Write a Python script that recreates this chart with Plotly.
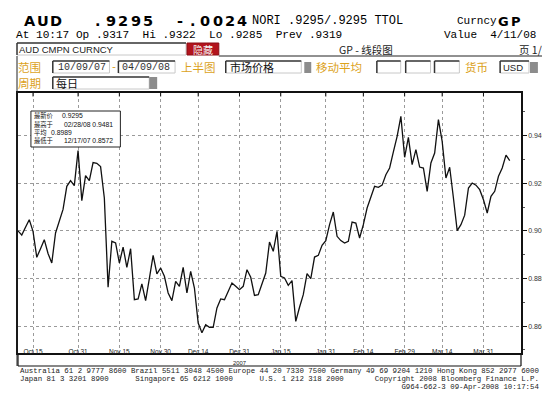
import plotly.graph_objects as go
import pandas as pd

# ---------------- data ----------------
dates = [d.strftime("%Y-%m-%d") for d in pd.bdate_range("2007-10-09", "2008-04-09")]
values = [
    0.9000, 0.8982, 0.9015, 0.9047, 0.8998, 0.8889, 0.8925, 0.8963, 0.8905, 0.8865,
    0.8991, 0.9040, 0.9090, 0.9187, 0.9211, 0.9190, 0.9337, 0.9127, 0.9232, 0.9211,
    0.9287, 0.9284, 0.9270, 0.9138, 0.8763, 0.8956, 0.8949, 0.8865, 0.8932, 0.8847,
    0.8925, 0.8711, 0.8714, 0.8777, 0.8707, 0.8800, 0.8897, 0.8819, 0.8844, 0.8809,
    0.8739, 0.8707, 0.8788, 0.8767, 0.8847, 0.8739, 0.8830, 0.8760, 0.8613, 0.8572,
    0.8606, 0.8595, 0.8595, 0.8676, 0.8714, 0.8711, 0.8746, 0.8781, 0.8767, 0.8753,
    0.8767, 0.8837, 0.8805, 0.8729, 0.8732, 0.8781, 0.8823, 0.8953, 0.8914, 0.8998,
    0.8809, 0.8802, 0.8771, 0.8791, 0.8620, 0.8679, 0.8732, 0.8820, 0.8799, 0.8890,
    0.8897, 0.8939, 0.8959, 0.9026, 0.9079, 0.8977, 0.8959, 0.8949, 0.8956, 0.9037,
    0.9033, 0.8970, 0.9026, 0.9096, 0.9145, 0.9187, 0.9183, 0.9192, 0.9236, 0.9264,
    0.9332, 0.9397, 0.9481, 0.9309, 0.9393, 0.9278, 0.9341, 0.9268, 0.9264, 0.9166,
    0.9285, 0.9327, 0.9467, 0.9376, 0.9222, 0.9267, 0.9138, 0.9001, 0.9026, 0.9066,
    0.9180, 0.9201, 0.9192, 0.9173, 0.9131, 0.9075, 0.9145, 0.9166, 0.9229, 0.9264,
    0.9318, 0.9295,
]
tick_dates = ["2007-10-15", "2007-10-31", "2007-11-15", "2007-11-30", "2007-12-14",
              "2007-12-31", "2008-01-15", "2008-01-31", "2008-02-14", "2008-02-29",
              "2008-03-14", "2008-03-31"]
tick_labels = ["Oct 15", "Oct 31", "Nov 15", "Nov 30", "Dec 14", "Dec 31", "Jan 15",
               "Jan 31", "Feb 14", "Feb 29", "Mar 14", "Mar 31"]
y_ticks = [0.86, 0.88, 0.90, 0.92, 0.94]
y_tick_labels = ["0.8600", "0.8800", "0.9000", "0.9200", "0.9400"]

stat_labels = ["最新价", "最高于", "平均", "最低于"]
stat_values = ["0.9295", "02/28/08 0.9481", "0.8989", "12/17/07 0.8572"]

# ---------------- layout helpers ----------------
W, H = 550, 393
L, R, T, B = 8, 514, 85, 345


def PX(x):
    return (x - L) / (R - L)


def PY(y):
    return (B - y) / (B - T)


annotations = []
shapes = []

MONO = "Liberation Mono, DejaVu Sans Mono, monospace"
SANS = "Liberation Sans, Arial, sans-serif"
CJK = "Noto Sans CJK SC, sans-serif"
ORANGE = "#dca21c"


def txt(s, x, y, size, color="#000", family=SANS, anchor="left", weight="normal"):
    annotations.append(dict(text=s, x=PX(x), y=PY(y), xref="paper", yref="paper",
                            xanchor=anchor, yanchor="middle", showarrow=False,
                            borderpad=0,
                            font=dict(family=family, size=size, color=color, weight=weight)))


def spaced(s, x0, pitch, y, size, weight="bold", family="DejaVu Sans, sans-serif"):
    for k, ch in enumerate(s):
        txt(ch, x0 + pitch * (k + 0.5), y, size, family=family, anchor="center", weight=weight)


def line(x0, y0, x1, y1, color="#000", width=1):
    shapes.append(dict(type="line", xref="paper", yref="paper", x0=PX(x0), y0=PY(y0),
                       x1=PX(x1), y1=PY(y1), line=dict(color=color, width=width)))


def rect(x0, y0, x1, y1, color="#000", width=1, fill="rgba(0,0,0,0)"):
    shapes.append(dict(type="rect", xref="paper", yref="paper", x0=PX(x0), y0=PY(y0),
                       x1=PX(x1), y1=PY(y1), line=dict(color=color, width=width),
                       fillcolor=fill))


def sunken(x0, y0, x1, y1):
    line(x0, y1, x1, y1, "#c8c8c8", 1)
    line(x1, y0, x1, y1, "#c8c8c8", 1)
    line(x0, y0, x1, y0, "#333", 1.5)
    line(x0, y0, x0, y1, "#333", 1.5)


# ---------------- header ----------------
spaced("AUD", 14, 12.7, 13, 14.5)
spaced(".9295", 82.5, 12.5, 13, 14.5)
spaced("-.0024", 165, 12.5, 13, 14.5)
txt("NORI .9295/.9295 TTOL", 242, 13, 12, family=MONO)
txt("Curncy", 449, 13, 11, family=MONO)
spaced("GP", 490, 12.5, 13, 13)
nb = "\u00a0"
txt(("At 10:17 Op .9317  Hi .9322  Lo .9285  Prev .9319").replace(" ", nb), 5, 27.5, 11.1,
    family=MONO)
txt(("Value  4/11/08").replace(" ", nb), 436, 27.5, 11, family=MONO)
txt("GP - 线段图", 330, 42, 10.5, family=CJK, color="#222")
txt("页 1/5", 511, 42, 10.5, family=CJK, color="#222")

# row 1
sunken(7, 35, 177, 47)
txt("AUD CMPN CURNCY", 8, 41.5, 9.5, family=SANS, color="#222")
rect(178, 35, 210, 47, color="#8a0f16", width=1, fill="#b3141d")
txt("隐藏", 194, 41.5, 10, color="#f4f4f4", family=CJK, anchor="center")

# outer panel frame
line(210, 48, 543, 48, "#222", 1)
line(543, 48, 543, 358, "#222", 1)
line(7, 48, 7, 358, "#222", 1)

# row 2
txt("范围", 7, 59.5, 11.5, color=ORANGE, family=CJK)
sunken(43, 53, 100, 65)
txt("10/09/07", 47, 59.5, 10, color="#333", family=MONO)
txt("-", 101, 59.5, 10, color=ORANGE, family=MONO)
sunken(109, 53, 166, 65)
txt("04/09/08", 112, 59.5, 10, color="#333", family=MONO)
txt("上半图", 171, 59.5, 11.5, color=ORANGE, family=CJK)
sunken(217, 53, 293, 65)
txt("市场价格", 220, 59.5, 11, color="#111", family=CJK)
rect(296, 54, 303, 65, color="#888", width=0, fill="#8c8c8c")
txt("移动平均", 307, 59.5, 11.5, color=ORANGE, family=CJK)
sunken(369, 53, 393, 65)
sunken(398, 53, 423, 65)
sunken(427, 53, 452, 65)
txt("货币", 457, 59.5, 11.5, color=ORANGE, family=CJK)
sunken(493, 53, 522, 65)
txt("USD", 495, 59.5, 9.5, color="#222", family=SANS)
rect(523, 54, 531, 65, color="#888", width=0, fill="#8c8c8c")

# row 3
txt("周期", 7, 75.5, 11.5, color=ORANGE, family=CJK)
sunken(43, 69, 140, 81)
txt("每日", 45, 75.5, 11, color="#111", family=CJK)
rect(140, 69, 148, 81, color="#888", width=0, fill="#8c8c8c")

# ---------------- stats box ----------------
rect(21, 103, 111, 139, color="#222", width=1, fill="white")
stat_y = [107.5, 116, 124, 132]
stat_x = [51, 53, 40, 53]
for lab, val, yy, xx in zip(stat_labels, stat_values, stat_y, stat_x):
    txt(lab, 23, yy, 6.3, family=CJK, color="#111")
    txt(val, xx, yy, 6.8, family=SANS, color="#111")

# ---------------- x-axis band ----------------
line(L, 358, R, 358, "#111", 1.2)
line(L, 345, L, 358, "#111", 1.2)
line(R, 345, R, 358, "#111", 1.2)
txt("2007", 230.5, 355, 5.8, family=SANS, color="#222", anchor="center")
for td in tick_dates:
    xi = dates.index(td)
    shapes.append(dict(type="line", xref="x", yref="paper", x0=xi, x1=xi,
                       y0=1, y1=PY(88.5), line=dict(color="#111", width=1)))

# ---------------- footer ----------------
f1 = "Australia 61 2 9777 8600 Brazil 5511 3048 4500 Europe 44 20 7330 7500 Germany 49 69 9204 1210 Hong Kong 852 2977 6000"
f2 = ("Japan 81 3 3201 8900".ljust(26) + "Singapore 65 6212 1000".ljust(28)
      + "U.S. 1 212 318 2000".ljust(26) + "Copyright 2008 Bloomberg Finance L.P.")
f3 = " " * 86 + "G964-662-3 09-Apr-2008 10:17:54"
for s, yy in [(f1, 363), (f2, 371), (f3, 379)]:
    txt(s.replace(" ", nb), 9, yy, 7.4, family=MONO, color="#222")

# ---------------- figure ----------------
fig = go.Figure()
fig.add_trace(go.Scatter(x=dates, y=values, mode="lines",
                         line=dict(color="#111", width=1.3), hoverinfo="skip"))

fig.update_layout(
    width=W, height=H,
    margin=dict(l=L, r=W - R, t=T, b=H - B),
    paper_bgcolor="white", plot_bgcolor="white",
    showlegend=False,
    annotations=annotations,
    shapes=shapes,
    xaxis=dict(type="category", range=[0, 134], tickmode="array",
               tickvals=tick_dates, ticktext=tick_labels,
               showgrid=True, griddash="dot", gridcolor="#9a9a9a", gridwidth=1,
               showline=True, linecolor="#111", linewidth=1.5, mirror=True,
               ticks="", ticklen=0, ticklabelstandoff=-9,
               tickfont=dict(family=SANS, size=6.5, color="#222"),
               fixedrange=True),
    yaxis=dict(side="right", range=[0.8487, 0.9579], tickmode="array",
               tickvals=y_ticks, ticktext=y_tick_labels,
               ticks="outside", ticklen=4, tickcolor="#111",
               showgrid=True, griddash="dot", gridcolor="#9a9a9a", gridwidth=1,
               showline=True, linecolor="#111", linewidth=1.5, mirror=True,
               zeroline=False,
               minor=dict(tick0=0.85, dtick=0.01, ticks="outside", ticklen=2,
                          tickcolor="#555", showgrid=False),
               tickfont=dict(family=SANS, size=7, color="#333"),
               fixedrange=True),
)

fig.write_html("out.html", config={"displayModeBar": False})
